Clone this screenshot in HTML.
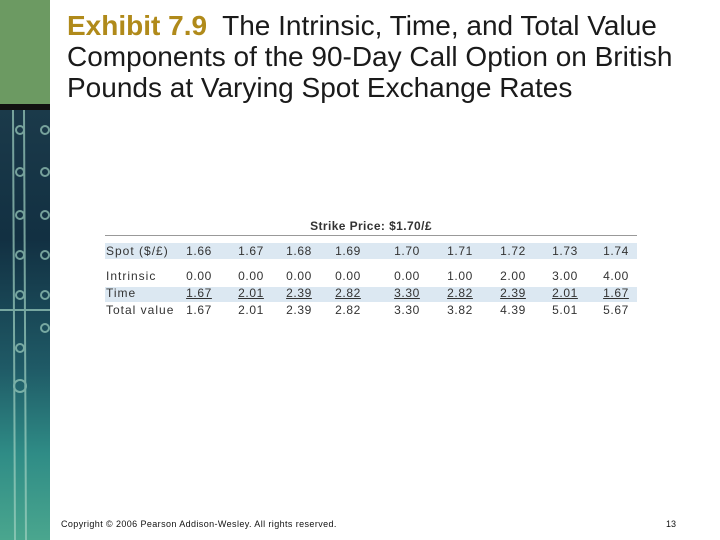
<!DOCTYPE html>
<html><head><meta charset="utf-8"><style>
body{margin:0;width:720px;height:540px;position:relative;background:#fff;font-family:"Liberation Sans",sans-serif;overflow:hidden}
.abs{position:absolute}
#title{left:67px;top:10px;font-size:28px;line-height:31px;color:#1a1a1a;white-space:nowrap}
#title b{color:#b08a1a;font-weight:bold}
.cell{position:absolute;font-size:12px;letter-spacing:0.6px;color:#333;transform:translateX(-50%);white-space:nowrap}
.lab{position:absolute;font-size:12px;letter-spacing:1px;color:#333;white-space:nowrap}
.band{position:absolute;left:105px;width:532px;background:#dce8f2}
</style></head><body>
<div class="abs" style="left:0;top:0;width:50px;height:106px;background:#6c9a62"></div>
<div class="abs" style="left:0;top:104px;width:50px;height:6px;background:#111"></div>
<div class="abs" style="left:0;top:110px;width:50px;height:430px;background:linear-gradient(180deg,#1b3a4a 0%,#123042 30%,#1f5a66 60%,#2f8c86 80%,#4aa68e 100%)">
<svg width="50" height="430" style="position:absolute;left:0;top:0">
<g stroke="#9fd0c0" stroke-width="2" fill="none" opacity="0.7">
<line x1="13" y1="0" x2="15" y2="430"/><line x1="24" y1="0" x2="26" y2="430"/><line x1="0" y1="200" x2="50" y2="200"/>
<circle cx="20" cy="20" r="4"/><circle cx="20" cy="62" r="4"/><circle cx="20" cy="105" r="4"/><circle cx="20" cy="145" r="4"/><circle cx="20" cy="185" r="4"/><circle cx="20" cy="238" r="4"/><circle cx="20" cy="276" r="6"/>
<circle cx="45" cy="20" r="4"/><circle cx="45" cy="62" r="4"/><circle cx="45" cy="105" r="4"/><circle cx="45" cy="145" r="4"/><circle cx="45" cy="185" r="4"/><circle cx="45" cy="218" r="4"/>
</g></svg></div>
<div id="title" class="abs"><b>Exhibit 7.9</b>&nbsp; The Intrinsic, Time, and Total Value<br>Components of the 90-Day Call Option on British<br>Pounds at Varying Spot Exchange Rates</div>

<div class="abs" style="left:105px;width:532px;top:219px;text-align:center;font-size:12px;letter-spacing:0.4px;font-weight:bold;color:#333">Strike Price: $1.70/£</div>
<div class="abs" style="left:105px;width:532px;top:235px;height:1px;background:#999"></div>
<div class="band" style="top:243px;height:16px"></div>
<div class="band" style="top:287px;height:15px"></div>
<div id="tbl"></div>

<div class="abs" style="left:61px;top:519px;font-size:9px;letter-spacing:0.4px;color:#111">Copyright © 2006 Pearson Addison-Wesley. All rights reserved.</div>
<div class="abs" style="left:666px;top:519px;font-size:9px;color:#111">13</div>
<script>
const spot=["1.66","1.67","1.68","1.69","1.70","1.71","1.72","1.73","1.74"];
const intrinsic=["0.00","0.00","0.00","0.00","0.00","1.00","2.00","3.00","4.00"];
const timeVal=["1.67","2.01","2.39","2.82","3.30","2.82","2.39","2.01","1.67"];
const total=["1.67","2.01","2.39","2.82","3.30","3.82","4.39","5.01","5.67"];
const labels=["Spot ($/£)","Intrinsic","Time","Total value"];
const colX=[199,251,299,348,407,460,513,565,616];
const rows=[spot,intrinsic,timeVal,total],rowY=[244,269,286,303];
const tbl=document.getElementById('tbl');
rows.forEach((r,i)=>{
 const l=document.createElement('div');l.className='lab';
 
 
 l.style.left='106px';l.style.top=rowY[i]+'px';l.textContent=labels[i];tbl.appendChild(l);
 r.forEach((v,j)=>{
  const c=document.createElement('div');c.className='cell';
  
  
  c.style.left=colX[j]+'px';c.style.top=rowY[i]+'px';c.textContent=v;
  if(i===2)c.style.textDecoration='underline';
  tbl.appendChild(c);
 });
});
</script>
</body></html>
